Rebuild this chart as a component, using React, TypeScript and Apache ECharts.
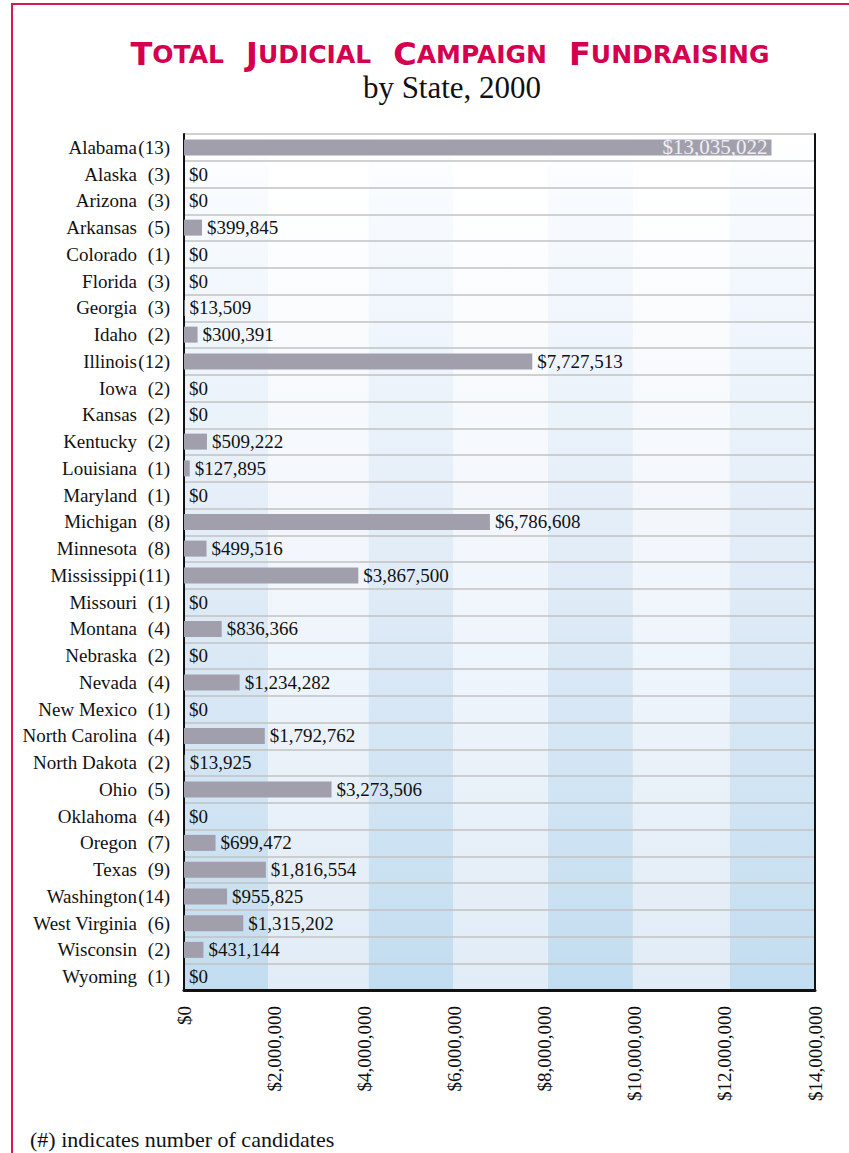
import React, { useEffect, useRef } from "react";
import * as echarts from "echarts";

const states = [
  "Alabama", "Alaska", "Arizona", "Arkansas", "Colorado", "Florida", "Georgia", "Idaho",
  "Illinois", "Iowa", "Kansas", "Kentucky", "Louisiana", "Maryland", "Michigan", "Minnesota",
  "Mississippi", "Missouri", "Montana", "Nebraska", "Nevada", "New Mexico", "North Carolina",
  "North Dakota", "Ohio", "Oklahoma", "Oregon", "Texas", "Washington", "West Virginia",
  "Wisconsin", "Wyoming",
];
const candidates = [13, 3, 3, 5, 1, 3, 3, 2, 12, 2, 2, 2, 1, 1, 8, 8, 11, 1, 4, 2, 4, 1, 4, 2, 5, 4, 7, 9, 14, 6, 2, 1];
const amounts = [
  13035022, 0, 0, 399845, 0, 0, 13509, 300391, 7727513, 0, 0, 509222, 127895, 0, 6786608, 499516,
  3867500, 0, 836366, 0, 1234282, 0, 1792762, 13925, 3273506, 0, 699472, 1816554, 955825, 1315202,
  431144, 0,
];
const axisMin = 0;
const axisMax = 14000000;
const axisStep = 2000000;
const darkBands = [
  [0, 1870000],
  [4090000, 5980000],
  [8070000, 9960000],
  [12100000, 14000000],
];
const lightBands = [
  [1870000, 4090000],
  [5980000, 8070000],
  [9960000, 12100000],
];
const titleWords = ["Total", "Judicial", "Campaign", "Fundraising"];

const SERIF = "'Liberation Serif', 'DejaVu Serif', serif";
const fmt = (v: number) => "$" + Math.round(v).toLocaleString("en-US");

export default function App() {
  const ref = useRef<HTMLDivElement>(null);
  useEffect(() => {
    if (!ref.current) return;
    const chart = echarts.init(ref.current, undefined, { renderer: "svg" });
    const darkGrad = new echarts.graphic.LinearGradient(0, 0, 0, 1, [
      { offset: 0, color: "#ffffff" },
      { offset: 0.1, color: "#f6fafe" },
      { offset: 0.45, color: "#e4eef8" },
      { offset: 0.65, color: "#d8e7f5" },
      { offset: 0.78, color: "#d0e4f3" },
      { offset: 1, color: "#c2ddf0" },
    ]);
    const lightGrad = new echarts.graphic.LinearGradient(0, 0, 0, 1, [
      { offset: 0, color: "#ffffff" },
      { offset: 0.1, color: "#fdfefe" },
      { offset: 0.45, color: "#f3f7fc" },
      { offset: 0.65, color: "#edf4fb" },
      { offset: 0.78, color: "#e8f0f8" },
      { offset: 1, color: "#e1ecf6" },
    ]);
    const maxVal = Math.max(...amounts);
    const bandData = [
      ...darkBands.map((b) => [
        { xAxis: b[0], itemStyle: { color: darkGrad } },
        { xAxis: b[1] },
      ]),
      ...lightBands.map((b) => [
        { xAxis: b[0], itemStyle: { color: lightGrad } },
        { xAxis: b[1] },
      ]),
    ];
    const titleText = titleWords
      .map((w) => `{b|${w[0].toUpperCase()}}{s|${w.slice(1).toUpperCase()}}`)
      .join("{g| }");
    const titleFont = "'DejaVu Sans', 'Open Sans', sans-serif";
    chart.setOption({
      animation: false,
      backgroundColor: "#ffffff",
      title: [
        {
          text: titleText,
          left: 445,
          top: 33,
          textAlign: "center",
          textStyle: {
            rich: {
              b: { fontSize: 32, lineHeight: 32, color: "#d4004f", fontFamily: titleFont, fontWeight: "bold" },
              s: { fontSize: 25, lineHeight: 32, color: "#d4004f", fontFamily: titleFont, fontWeight: "bold" },
              g: { fontSize: 25, lineHeight: 32, width: 22 },
            },
          },
        },
        {
          text: "by State, 2000",
          left: 447,
          top: 67,
          textAlign: "center",
          textStyle: { fontSize: 31, fontFamily: SERIF, fontWeight: "normal", color: "#111" },
        },
        {
          text: "(#) indicates number of candidates",
          left: 25,
          top: 1123,
          textStyle: { fontSize: 22, fontFamily: SERIF, fontWeight: "normal", color: "#111" },
        },
      ],
      graphic: [
        { type: "line", shape: { x1: 11, y1: 4, x2: 849, y2: 4 }, style: { stroke: "#d6194f", lineWidth: 2 } },
        { type: "line", shape: { x1: 12, y1: 4, x2: 12, y2: 1153 }, style: { stroke: "#d6194f", lineWidth: 2 } },
      ],
      grid: { left: 184, right: 34, top: 134, bottom: 163, containLabel: false },
      xAxis: {
        type: "value",
        min: axisMin,
        max: axisMax,
        interval: axisStep,
        z: 5,
        axisLine: { show: true, lineStyle: { color: "#111", width: 3 } },
        axisTick: { show: false },
        splitLine: { show: false },
        axisLabel: {
          rotate: 90,
          margin: 16,
          fontSize: 19,
          fontFamily: SERIF,
          color: "#111",
          formatter: (v: number) => fmt(v),
        },
      },
      yAxis: [
        {
          type: "category",
          data: states,
          inverse: true,
          z: 1,
          axisLine: { show: true, lineStyle: { color: "#111", width: 2 } },
          axisTick: { show: false },
          splitLine: { show: true, lineStyle: { color: "#c2c2c2", width: 1.5 } },
          axisLabel: {
            margin: 14,
            formatter: (value: string, idx: number) => `{n|${value}}{c|(${candidates[idx]})}`,
            rich: {
              n: { width: 125, align: "right", fontSize: 19, fontFamily: SERIF, color: "#111" },
              c: { width: 33, align: "right", fontSize: 19, fontFamily: SERIF, color: "#111" },
            },
          },
        },
        {
          type: "category",
          data: states,
          inverse: true,
          position: "right",
          z: 5,
          axisLine: { show: true, lineStyle: { color: "#111", width: 2 } },
          axisTick: { show: false },
          axisLabel: { show: false },
          splitLine: { show: false },
        },
      ],
      series: [
        {
          type: "line",
          z: 0,
          data: [],
          silent: true,
          markArea: { silent: true, z: 0, data: bandData },
        },
        {
          type: "bar",
          z: 2,
          barWidth: 16,
          itemStyle: { color: "#a29fad" },
          label: {
            show: true,
            position: "right",
            distance: 5,
            fontSize: 19,
            fontFamily: SERIF,
            color: "#111",
            formatter: (p: any) => fmt(p.value),
          },
          data: amounts.map((v) =>
            v === maxVal
              ? { value: v, label: { position: "insideRight", color: "#eeeef4", distance: 4, fontSize: 21 } }
              : v
          ),
        },
      ],
    });
    return () => chart.dispose();
  }, []);
  return (
    <div
      ref={ref}
      style={{ position: "absolute", left: 0, top: 0, width: 849, height: 1153 }}
    />
  );
}
